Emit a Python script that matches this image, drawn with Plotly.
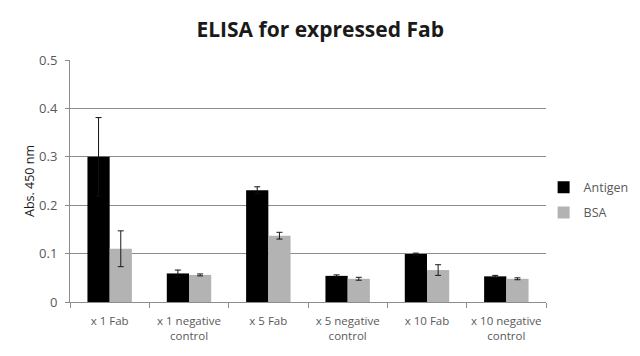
import plotly.graph_objects as go

categories = ["x 1 Fab", "x 1 negative<br>control", "x 5 Fab", "x 5 negative<br>control", "x 10 Fab", "x 10 negative<br>control"]
antigen = [0.300, 0.059, 0.231, 0.054, 0.099, 0.053]
antigen_err = [0.081, 0.007, 0.007, 0.002, 0.002, 0.002]
bsa = [0.110, 0.056, 0.137, 0.048, 0.066, 0.048]
bsa_err = [0.037, 0.002, 0.007, 0.003, 0.011, 0.002]
y_ticks = [0, 0.1, 0.2, 0.3, 0.4, 0.5]
y_tick_text = ["0", "0.1", "0.2", "0.3", "0.4", "0.5"]

font_family = "Open Sans, Lato, sans-serif"
txt = "#595959"

fig = go.Figure()
fig.add_trace(go.Bar(name="Antigen", x=categories, y=antigen, legendgroup="a",
                     marker=dict(color="#000000", line=dict(width=0)),
                     error_y=dict(type="data", array=antigen_err, color="#111111", thickness=1, width=3)))
fig.add_trace(go.Bar(name="BSA", x=categories, y=bsa, legendgroup="b",
                     marker=dict(color="#b3b3b3", line=dict(width=0)),
                     error_y=dict(type="data", array=bsa_err, color="#1a1a1a", thickness=1, width=3)))

fig.update_layout(
    width=632, height=348,
    barmode="group", bargap=0.44, bargroupgap=0,
    paper_bgcolor="white", plot_bgcolor="white",
    margin=dict(l=62, r=94, t=52, b=54, autoexpand=False),
    title=dict(text="<b>ELISA for expressed Fab</b>", x=0.494, xref="container", xanchor="center",
               y=0.937, yanchor="middle",
               font=dict(family=font_family, size=21, color="#1a1a1a")),
    font=dict(family=font_family, color=txt, size=11),
    legend=dict(x=0.995, y=0.535, xanchor="left", yanchor="top", font=dict(size=12.5, color=txt),
                bgcolor="rgba(0,0,0,0)", itemwidth=30, tracegroupgap=6),
    xaxis=dict(showline=True, linecolor="#8c8c8c", linewidth=1, ticks="outside", tickson="boundaries",
               ticklen=5, tickcolor="#8c8c8c", tickangle=0, automargin=False, ticklabelstandoff=8,
               tickfont=dict(size=11.5, color=txt), showgrid=False),
    yaxis=dict(range=[0, 0.5], tickvals=y_ticks, ticktext=y_tick_text, showline=True, linecolor="#8c8c8c",
               linewidth=1, ticks="outside", ticklen=4, tickcolor="#8c8c8c", showgrid=True, gridcolor="#8c8c8c",
               gridwidth=1, zeroline=False, tickfont=dict(size=13, color=txt), automargin=False,
               ticklabelstandoff=5,
               title=dict(text="Abs. 450 nm", font=dict(size=12.5, color="#1a1a1a"), standoff=1)),
)

fig.write_html("out.html")
